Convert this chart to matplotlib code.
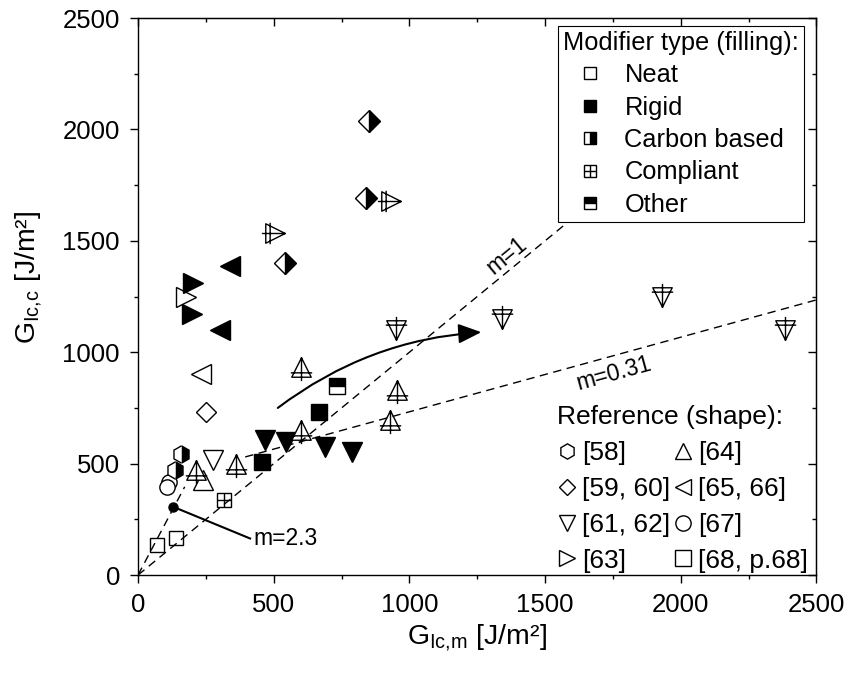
import numpy as np
import matplotlib
matplotlib.use("Agg")
import matplotlib.pyplot as plt
from matplotlib.path import Path
from matplotlib.lines import Line2D
from matplotlib.ticker import MultipleLocator

plt.rcParams['font.family'] = ['Liberation Sans', 'DejaVu Sans']
plt.rcParams['mathtext.fontset'] = 'custom'
plt.rcParams['mathtext.rm'] = 'Liberation Sans'
plt.rcParams['mathtext.it'] = 'Liberation Sans:italic'
plt.rcParams['mathtext.bf'] = 'Liberation Sans:bold'

# ---- datos (G_Ic,m, G_Ic,c) en J/m2 ----
# Neat (vacio)
neat_sq_x, neat_sq_y = [70, 140], [134, 164]
neat_circ_x, neat_circ_y = [115, 105], [418, 396]
neat_up_x, neat_up_y = [238], [426]
neat_down_x, neat_down_y = [275], [515]
neat_dia_x, neat_dia_y = [250], [732]
neat_left_x, neat_left_y = [232], [904]
neat_right_x, neat_right_y = [178], [1247]

# Rigid (lleno)
rigid_sq_x, rigid_sq_y = [458, 667], [508, 732]
rigid_down_x, rigid_down_y = [467, 545, 690, 790], [608, 597, 575, 552]
rigid_right_x, rigid_right_y = [204, 200], [1310, 1172]
rigid_left_x, rigid_left_y = [340, 303], [1389, 1098]

# Carbon based (mitad derecha)
carbon_dia_x, carbon_dia_y = [850, 840, 540], [2038, 1690, 1399]
carbon_hex_x, carbon_hex_y = [160, 138], [545, 470]

# Compliant (cruz)
comp_sq_x, comp_sq_y = [318], [336]
comp_up_x = [599, 955, 930, 599, 360, 215]
comp_up_y = [933, 832, 694, 650, 500, 470]
comp_down_x, comp_down_y = [949, 1340, 1930, 2385], [1098, 1151, 1250, 1098]
comp_right_x, comp_right_y = [932, 506], [1680, 1537]

# Other (mitad superior)
other_sq_x, other_sq_y = [732], [848]

# punto m=2.3
dot_x, dot_y = [130], [306]

# lineas de pendiente
line1_x, line1_y = [0, 1590], [0, 1590]
line031_x, line031_y = [395, 2500], [530, 1235]
line23_x, line23_y = [0, 172], [0, 396]

ref_labels = ['[58]', '[59, 60]', '[61, 62]', '[63]',
              '[64]', '[65, 66]', '[67]', '[68, p.68]']
ref_markers = ['h', 'D', 'v', '>', '^', '<', 'o', 's']
fill_labels = ['Neat', 'Rigid', 'Carbon based', 'Compliant', 'Other']


def cross_tri(angle):
    # triangulo con cruz encima (marcador "compliant")
    v = np.array([(0, 1), (-1, -1), (1, -1), (0, 1),
                  (0, 1.05), (0, -1.4), (-1.1, -0.55), (1.1, -0.55)], float)
    t = np.deg2rad(angle)
    R = np.array([[np.cos(t), -np.sin(t)], [np.sin(t), np.cos(t)]])
    v = v @ R.T
    c = [Path.MOVETO, Path.LINETO, Path.LINETO, Path.CLOSEPOLY,
         Path.MOVETO, Path.LINETO, Path.MOVETO, Path.LINETO]
    return Path(v, c)


fig = plt.figure(figsize=(8.53, 6.75), dpi=100)
ax = fig.add_axes([0.1618, 0.1481, 0.7954, 0.8252])

mew = 1.0
kw_open = dict(ls='none', mec='k', mfc='white', mew=mew, zorder=2)
kw_full = dict(ls='none', mec='k', mfc='k', mew=mew, zorder=2)
kw_half_r = dict(ls='none', mec='k', mfc='k', mfcalt='white',
                 fillstyle='right', mew=mew, zorder=2)
kw_half_t = dict(ls='none', mec='k', mfc='k', mfcalt='white',
                 fillstyle='top', mew=mew, zorder=2)

# neat
ax.plot(neat_sq_x, neat_sq_y, marker='s', ms=10.5, **kw_open)
ax.plot(neat_circ_x, neat_circ_y, marker='o', ms=11, **kw_open)
ax.plot(neat_up_x, neat_up_y, marker='^', ms=14, **kw_open)
ax.plot(neat_down_x, neat_down_y, marker='v', ms=14, **kw_open)
ax.plot(neat_dia_x, neat_dia_y, marker='D', ms=10.5, **kw_open)
ax.plot(neat_left_x, neat_left_y, marker='<', ms=14, **kw_open)
ax.plot(neat_right_x, neat_right_y, marker='>', ms=14, **kw_open)

# rigid
ax.plot(rigid_sq_x, rigid_sq_y, marker='s', ms=11.5, **kw_full)
ax.plot(rigid_down_x, rigid_down_y, marker='v', ms=14.5, **kw_full)
ax.plot(rigid_right_x, rigid_right_y, marker='>', ms=14.5, **kw_full)
ax.plot(rigid_left_x, rigid_left_y, marker='<', ms=14.5, **kw_full)

# carbon based
ax.plot(carbon_dia_x, carbon_dia_y, marker='D', ms=11, **kw_half_r)
ax.plot(carbon_hex_x, carbon_hex_y, marker='h', ms=12.5, **kw_half_r)

# compliant
ax.plot(comp_sq_x, comp_sq_y, marker='s', ms=10.5, **kw_open)
ax.plot(comp_sq_x, comp_sq_y, marker='+', ms=10.5, ls='none', mec='k', mew=mew, zorder=2)
ax.plot(comp_up_x, comp_up_y, marker=cross_tri(0), ms=14 * 1.4, **kw_open)
ax.plot(comp_down_x, comp_down_y, marker=cross_tri(180), ms=14 * 1.4, **kw_open)
ax.plot(comp_right_x, comp_right_y, marker=cross_tri(-90), ms=14 * 1.4, **kw_open)

# other
ax.plot(other_sq_x, other_sq_y, marker='s', ms=11, **kw_half_t)

# lineas discontinuas
dash = (0, (6, 4))
ax.plot(line1_x, line1_y, color='k', lw=1.0, ls=dash, zorder=3)
ax.plot(line031_x, line031_y, color='k', lw=1.0, ls=dash, zorder=3)
ax.plot(line23_x, line23_y, color='k', lw=1.0, ls=dash, zorder=3)

ax.text(1360, 1434, 'm=1', rotation=39.4, ha='center', va='center',
        fontsize=16.5, rotation_mode='anchor', zorder=3)
ax.text(1754, 905, 'm=0.31', rotation=15.4, ha='center', va='center',
        fontsize=16.5, rotation_mode='anchor', zorder=3)

# m=2.3
ax.plot(dot_x, dot_y, marker='o', ms=6.5, color='k', ls='none', zorder=3)
ax.plot([dot_x[0], 413], [dot_y[0], 164], color='k', lw=1.5, zorder=3)
ax.text(424, 162, 'm=2.3', ha='left', va='center', fontsize=16.5, zorder=3)

# flecha curva
ax.annotate('', xy=(1265, 1090), xytext=(515, 750),
            arrowprops=dict(arrowstyle='-|>,head_length=0.7,head_width=0.3',
                            color='k', lw=1.5, mutation_scale=20,
                            connectionstyle='arc3,rad=-0.15',
                            shrinkA=0, shrinkB=0), zorder=3)

ax.set_xlim(0, 2500)
ax.set_ylim(0, 2500)
ax.xaxis.set_major_locator(MultipleLocator(500))
ax.xaxis.set_minor_locator(MultipleLocator(250))
ax.yaxis.set_major_locator(MultipleLocator(500))
ax.yaxis.set_minor_locator(MultipleLocator(250))
ax.tick_params(which='both', direction='out', labelsize=18.5, pad=7, width=1.0)
ax.tick_params(which='major', length=6)
ax.tick_params(which='minor', length=3)
for s in ax.spines.values():
    s.set_linewidth(1.0)

# ticks hacia dentro arriba y a la derecha
top = ax.secondary_xaxis('top')
right = ax.secondary_yaxis('right')
top.xaxis.set_major_locator(MultipleLocator(500))
top.xaxis.set_minor_locator(MultipleLocator(250))
right.yaxis.set_major_locator(MultipleLocator(500))
right.yaxis.set_minor_locator(MultipleLocator(250))
top.tick_params(which='both', direction='in', labeltop=False, width=1.0)
right.tick_params(which='both', direction='in', labelright=False, width=1.0)
top.tick_params(which='major', length=6)
top.tick_params(which='minor', length=3)
right.tick_params(which='major', length=6)
right.tick_params(which='minor', length=3)

ax.set_xlabel(r'G$_{\mathrm{Ic{,}m}}$ [J/m²]', fontsize=20.5, labelpad=4)
ax.set_ylabel(r'G$_{\mathrm{Ic{,}c}}$ [J/m²]', fontsize=20.5)
ax.yaxis.set_label_coords(-0.138, 0.535)

# leyenda 1: relleno
lk = dict(ls='none', mec='k', mew=mew, ms=9, marker='s')
h_neat = Line2D([], [], mfc='white', **lk)
h_rigid = Line2D([], [], mfc='k', **lk)
h_carbon = Line2D([], [], mfc='k', mfcalt='white', fillstyle='right', **lk)
h_comp = (Line2D([], [], mfc='white', **lk),
          Line2D([], [], ls='none', mec='k', mew=mew, ms=9, marker='+'))
h_other = Line2D([], [], mfc='k', mfcalt='white', fillstyle='top', **lk)
leg1 = ax.legend([h_neat, h_rigid, h_carbon, h_comp, h_other], fill_labels,
                 title='Modifier type (filling):', title_fontsize=18.3, fontsize=18.3,
                 loc='upper right', bbox_to_anchor=(0.982, 0.986),
                 frameon=True, fancybox=False, edgecolor='k', framealpha=1,
                 borderpad=0.2, borderaxespad=0, handlelength=2.1,
                 handletextpad=0.3, labelspacing=0.33, alignment='left')
leg1.get_frame().set_linewidth(0.8)
ax.add_artist(leg1)

# leyenda 2: forma
ref_handles = [Line2D([], [], ls='none', marker=m, mec='k', mfc='white', mew=mew,
                      ms=8.5 if m == 'D' else 11) for m in ref_markers]
leg2 = ax.legend(ref_handles, ref_labels, title='Reference (shape):',
                 title_fontsize=19, fontsize=19, ncol=2, loc='upper left',
                 bbox_to_anchor=(0.618, 0.305), frameon=False, borderpad=0,
                 borderaxespad=0, handlelength=0.75, handletextpad=0.2,
                 columnspacing=0.1, labelspacing=0.45, alignment='left')

fig.savefig('out.png', dpi=100)
